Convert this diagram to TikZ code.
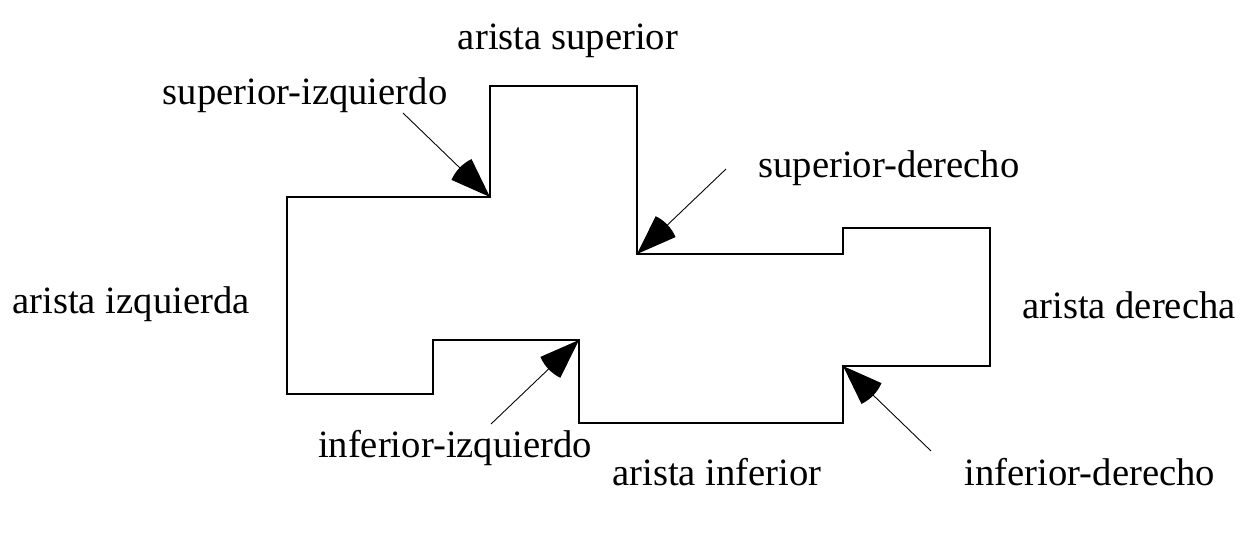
\documentclass[tikz,border=0pt]{standalone}
\usepackage{fontspec}
\setmainfont{Liberation Serif}
\usetikzlibrary{arrows.meta}

% filled sector-shaped arrow head
\pgfdeclarearrow{
  name = Sector,
  setup code = {
    \pgfarrowssettipend{0pt}
    \pgfarrowssetlineend{-12pt}
    \pgfarrowssetbackend{-24pt}
    \pgfarrowsupperhullpoint{0pt}{0pt}
    \pgfarrowsupperhullpoint{-24pt}{8.5pt}
  },
  drawing code = {
    \pgfpathmoveto{\pgfpointorigin}
    \pgfpathlineto{\pgfpointpolar{160}{24pt}}
    \pgfpatharc{160}{200}{24pt}
    \pgfpathclose
    \pgfusepathqfill
  }
}

\begin{document}
\begin{tikzpicture}[x=0.02cm, y=-0.02cm,
  outline/.style={draw=black, line width=0.8pt},
  lbl/.style={anchor=base, inner sep=0pt, font=\fontsize{22}{26}\selectfont},
  pointer/.style={-Sector, line width=0.5pt},
]
  \useasboundingbox (0,0) rectangle (1258,544);

  % corners of the outline
  \coordinate (p1) at (287,197);
  \coordinate (supizq-c) at (490,197);
  \coordinate (p3) at (490,86);
  \coordinate (p4) at (637,86);
  \coordinate (supder-c) at (637,254);
  \coordinate (p6) at (843,254);
  \coordinate (p7) at (843,228);
  \coordinate (p8) at (990,228);
  \coordinate (p9) at (990,366);
  \coordinate (infder-c) at (843,366);
  \coordinate (p11) at (843,423);
  \coordinate (p12) at (579,423);
  \coordinate (infizq-c) at (579,340);
  \coordinate (p14) at (433,340);
  \coordinate (p15) at (433,394);
  \coordinate (p16) at (287,394);

  \draw[outline] (p1) -- (supizq-c) -- (p3) -- (p4) -- (supder-c) -- (p6) -- (p7)
    -- (p8) -- (p9) -- (infder-c) -- (p11) -- (p12) -- (infizq-c) -- (p14)
    -- (p15) -- (p16) -- cycle;

  % labels
  \node[lbl] (aristasup) at (568,50) {arista superior};
  \node[lbl] (supizq) at (305,105) {superior-izquierdo};
  \node[lbl] (supder) at (889,177) {superior-derecho};
  \node[lbl] (aristaizq) at (131,313) {arista izquierda};
  \node[lbl] (aristader) at (1129,318) {arista derecha};
  \node[lbl] (infizq) at (455,457) {inferior-izquierdo};
  \node[lbl] (aristainf) at (717,485) {arista inferior};
  \node[lbl] (infder) at (1090,485) {inferior-derecho};

  % pointers to the corners
  \coordinate (supizq-t) at (403,113);
  \coordinate (supder-t) at (726,169);
  \coordinate (infizq-t) at (491,424);
  \coordinate (infder-t) at (931,451);
  \draw[pointer] (supizq-t) -- (supizq-c);
  \draw[pointer] (supder-t) -- (supder-c);
  \draw[pointer] (infizq-t) -- (infizq-c);
  \draw[pointer] (infder-t) -- (infder-c);
\end{tikzpicture}
\end{document}
